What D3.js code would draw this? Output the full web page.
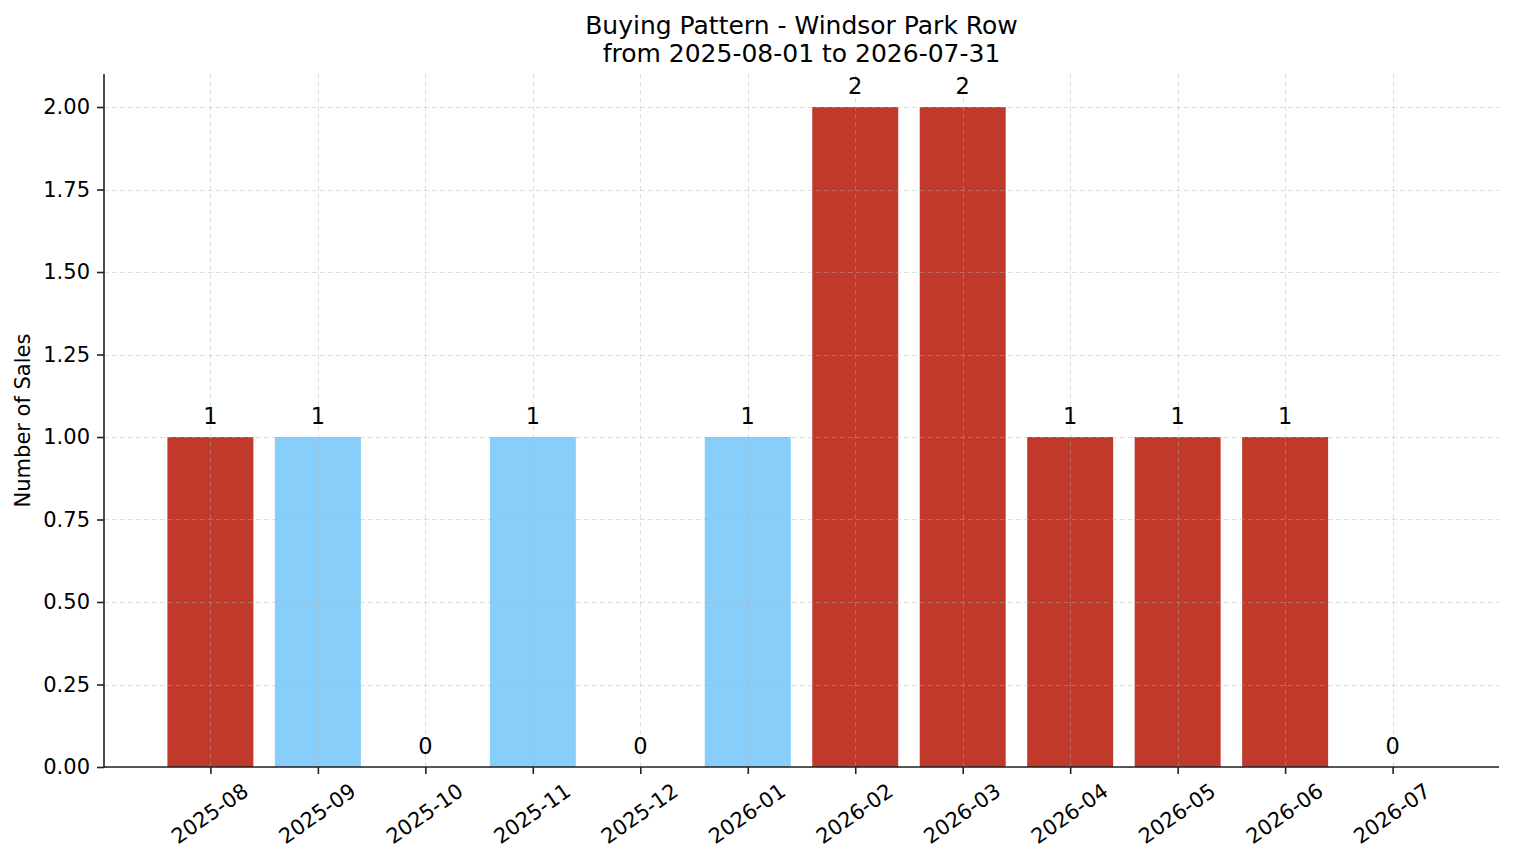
<!DOCTYPE html>
<html>
<head>
<meta charset="utf-8">
<script src="https://cdn.jsdelivr.net/npm/d3@7"></script>
<style>
  html, body { margin: 0; padding: 0; background: #fff; }
  svg { display: block; font-family: "DejaVu Sans", sans-serif; }
</style>
</head>
<body>
<svg id="chart" width="1514" height="863"></svg>
<script>
// ---- data ----
const months = ["2025-08","2025-09","2025-10","2025-11","2025-12","2026-01",
                "2026-02","2026-03","2026-04","2026-05","2026-06","2026-07"];
const sales = [1, 1, 0, 1, 0, 1, 2, 2, 1, 1, 1, 0];
const monthGroup = ["high","low","low","low","low","low","high","high","high","high","high","low"];
const yTicks = [0, 0.25, 0.5, 0.75, 1.0, 1.25, 1.5, 1.75, 2.0];
const titleLines = ["Buying Pattern - Windsor Park Row", "from 2025-08-01 to 2026-07-31"];
const yLabel = "Number of Sales";

(function () {
// ---- layout ----
const mLeft = 104, mRight = 1499, mTop = 74, mBottom = 767;
const svg = d3.select("#chart");

const color = d3.scaleOrdinal().domain(["high","low"]).range(["#c0392b","#87cefa"]);
const barW = 0.8;
const n = months.length;
const pad = (n - 1 + barW) * 0.05;
const x = d3.scaleLinear().domain([-barW/2 - pad, n - 1 + barW/2 + pad]).range([mLeft, mRight]);
const y = d3.scaleLinear().domain([0, 2.1]).range([mBottom, mTop]);

// bars
svg.append("g").selectAll("rect").data(sales).join("rect")
  .attr("x", (d, i) => x(i - barW/2))
  .attr("width", x(barW) - x(0))
  .attr("y", d => y(d))
  .attr("height", d => y(0) - y(d))
  .attr("fill", (d, i) => color(monthGroup[i]));

// grid (drawn above bars, translucent)
const grid = svg.append("g").attr("stroke", "#b0b0b0").attr("stroke-opacity", 0.45)
  .attr("stroke-width", 0.9).attr("stroke-dasharray", "5,3").attr("fill", "none");
grid.selectAll("line.h").data(yTicks).join("line").attr("class","h")
  .attr("x1", mLeft).attr("x2", mRight)
  .attr("y1", d => Math.round(y(d)) + 0.5).attr("y2", d => Math.round(y(d)) + 0.5);
grid.selectAll("line.v").data(months).join("line").attr("class","v")
  .attr("x1", (d,i) => Math.round(x(i)) + 0.5).attr("x2", (d,i) => Math.round(x(i)) + 0.5)
  .attr("y1", mTop).attr("y2", mBottom);

// value labels
svg.append("g").selectAll("text").data(sales).join("text")
  .attr("x", (d, i) => x(i))
  .attr("y", d => y(d) - 13)
  .attr("text-anchor", "middle")
  .attr("font-size", 22.5)
  .attr("fill", "#000")
  .text(d => d);

// y axis
const yAxis = d3.axisLeft(y).tickValues(yTicks).tickFormat(d3.format(".2f")).tickSize(7).tickPadding(7);
const gy = svg.append("g").attr("transform", `translate(${mLeft},0)`).call(yAxis);
gy.select(".domain").remove();
gy.selectAll(".tick line").attr("stroke", "#222").attr("stroke-width", 1.6);
gy.selectAll(".tick text").attr("font-size", 21).attr("fill", "#000")
  .attr("font-family", "DejaVu Sans");

// x axis
const xAxis = d3.axisBottom(x).tickValues(d3.range(n)).tickFormat(i => months[i]).tickSize(7).tickPadding(7);
const gx = svg.append("g").attr("transform", `translate(0,${mBottom})`).call(xAxis);
gx.select(".domain").remove();
gx.selectAll(".tick line").attr("stroke", "#222").attr("stroke-width", 1.6);
const ang = 35, rad = ang * Math.PI / 180;
gx.selectAll(".tick text").attr("font-size", 21).attr("fill", "#000")
  .attr("font-family", "DejaVu Sans")
  .each(function() {
    const t = d3.select(this);
    const w = this.getComputedTextLength();
    const h = 21;
    const hr = w * Math.sin(rad) + h * Math.cos(rad);
    const cy = 13 + hr / 2;
    t.attr("y", null).attr("dy", null)
     .attr("dominant-baseline", "central")
     .attr("text-anchor", "middle")
     .attr("transform", `translate(-1,${cy}) rotate(${-ang})`);
  });

// spines
svg.append("line").attr("x1", mLeft).attr("x2", mLeft).attr("y1", mTop).attr("y2", mBottom + 0.8)
  .attr("stroke", "#222").attr("stroke-width", 1.6);
svg.append("line").attr("x1", mLeft - 0.8).attr("x2", mRight).attr("y1", mBottom).attr("y2", mBottom)
  .attr("stroke", "#222").attr("stroke-width", 1.6);

// title
svg.append("text").attr("x", (mLeft + mRight) / 2).attr("y", 34)
  .attr("text-anchor", "middle").attr("font-size", 25).attr("fill", "#000")
  .selectAll("tspan").data(titleLines).join("tspan")
  .attr("x", (mLeft + mRight) / 2).attr("dy", (d, i) => i === 0 ? 0 : 28).text(d => d);

// y label
svg.append("text")
  .attr("transform", `translate(30,${(mTop + mBottom) / 2}) rotate(-90)`)
  .attr("text-anchor", "middle").attr("font-size", 21).attr("fill", "#000")
  .text(yLabel);
})();
</script>
</body>
</html>
